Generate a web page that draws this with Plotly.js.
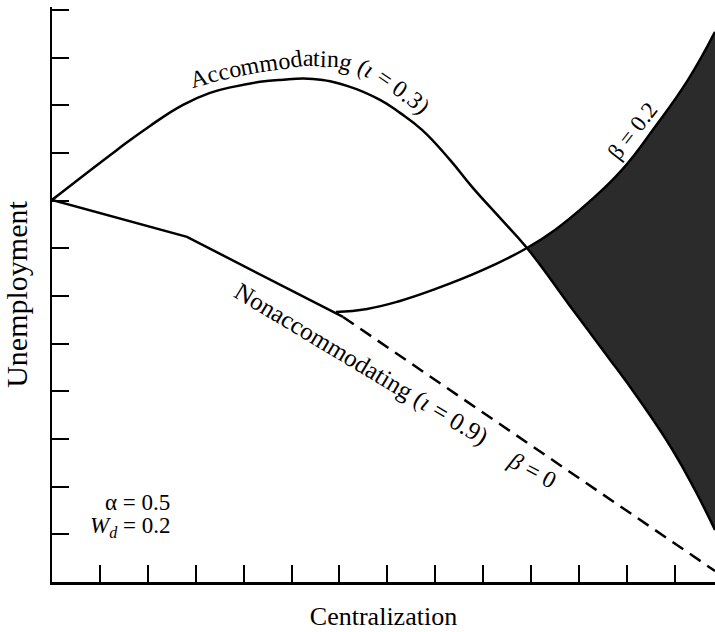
<!DOCTYPE html>
<html>
<head>
<meta charset="utf-8">
<script src="https://cdn.plot.ly/plotly-3.0.1.min.js"></script>
<style>
  html, body { margin: 0; padding: 0; background: #fff; }
  #chart { width: 715px; height: 632px; }
</style>
</head>
<body>
<div id="chart"></div>
<script>
// ---- Data (axis units = tick intervals) ----
const accomX = [0, 1.357, 2.046, 2.735, 3.298, 3.778, 4.342, 4.759, 5.448, 6.158, 6.847, 7.264, 7.724, 8.308, 8.768, 9.352, 9.915, 10.813, 11.544, 12.232, 12.942, 13.422, 13.840];
const accomY = [8.014, 9.063, 9.566, 10.007, 10.259, 10.385, 10.490, 10.531, 10.552, 10.406, 10.112, 9.839, 9.482, 8.853, 8.287, 7.636, 7.006, 5.790, 4.804, 3.860, 2.790, 1.930, 1.091];

const nonaccX = [0, 2.818, 6.075];
const nonaccY = [8.014, 7.238, 5.559];

const beta0X = [6.075, 13.840];
const beta0Y = [5.559, 0.231];

const beta02X = [5.928, 6.576, 7.264, 7.953, 8.997, 9.915, 10.500, 11.188, 11.898, 12.587, 13.276, 13.840];
const beta02Y = [5.664, 5.727, 5.895, 6.126, 6.545, 7.006, 7.385, 7.951, 8.643, 9.545, 10.531, 11.538];

const crossX = 9.915; // where the accommodating curve meets the beta = 0.2 curve

// ---- Shaded region: between the two curves beyond the crossing ----
const upX = [], upY = [], loX = [], loY = [];
beta02X.forEach((x, i) => { if (x >= crossX) { upX.push(x); upY.push(beta02Y[i]); } });
accomX.forEach((x, i) => { if (x >= crossX) { loX.push(x); loY.push(accomY[i]); } });

const XMAX = 13.84, YMAX = 12.06;
const W = 715, H = 632, ML = 52, MR = 0, MT = 7, MB = 50;
const PW = W - ML - MR, PH = H - MT - MB;
const FONT = 'Liberation Serif';

// ---- helpers for text that follows a curve (pixel path -> paper coords) ----
const cv = document.createElement('canvas').getContext('2d');
function toPaper(px, py) { return [(px - ML) / PW, (MT + PH - py) / PH]; }
function curvedText(str, pts, fs, offset, italicChars) {
  cv.font = fs + 'px "Liberation Serif"';
  const segs = []; let total = 0;
  for (let i = 1; i < pts.length; i++) {
    const dx = pts[i][0] - pts[i-1][0], dy = pts[i][1] - pts[i-1][1];
    const L = Math.hypot(dx, dy);
    segs.push({x: pts[i-1][0], y: pts[i-1][1], dx, dy, L, s0: total});
    total += L;
  }
  function at(s) {
    let g = segs[segs.length - 1];
    for (const sg of segs) { if (s <= sg.s0 + sg.L) { g = sg; break; } }
    const t = (s - g.s0) / g.L;
    return {x: g.x + g.dx * t, y: g.y + g.dy * t, a: Math.atan2(g.dy, g.dx)};
  }
  const out = []; let s = 0;
  for (const ch of str) {
    const w = cv.measureText(ch).width;
    if (ch !== ' ') {
      const p = at(s + w / 2);
      const cx = p.x + Math.sin(p.a) * offset;
      const cy = p.y - Math.cos(p.a) * offset;
      const [xp, yp] = toPaper(cx, cy);
      out.push({
        text: italicChars && italicChars.includes(ch) ? '<i>' + ch + '</i>' : ch,
        xref: 'paper', yref: 'paper', x: xp, y: yp,
        xanchor: 'center', yanchor: 'middle', showarrow: false,
        textangle: p.a * 180 / Math.PI, borderpad: 0,
        font: {family: FONT, size: fs, color: '#000'}
      });
    }
    s += w;
  }
  return out;
}

const accomLabelPath = [[193,88],[230,78],[267,71],[303,66],[335,67],[358,73],[378,83],[398,97],[416,112],[434,130],[450,148]];

function label(text, px, py, angle, size, xanchor) {
  const [x, y] = toPaper(px, py);
  return {text, xref: 'paper', yref: 'paper', x, y, xanchor: xanchor || 'center', yanchor: 'middle',
          showarrow: false, textangle: angle, font: {family: FONT, size, color: '#000'}};
}

const annotations = [].concat(
  curvedText('Accommodating (ι = 0.3)', accomLabelPath, 24, 8, ['ι']),
  [
    label('Nonaccommodating (<i>ι</i> = 0.9)', 361, 364, 31, 25),
    label('<i>β</i> = 0', 532, 470, 28, 24),
    label('β = 0.2', 632, 131, -52, 23),
    label('α = 0.5', 172, 502, 0, 23, 'right'),
    label('<i>W</i><sub><i>d</i></sub> = 0.2', 172, 527, 0, 23, 'right')
  ]
);

const SM = 1.3;
const traces = [
  {x: upX, y: upY, mode: 'lines', line: {width: 0, shape: 'spline', smoothing: SM, color: 'rgba(0,0,0,0)'},
   hoverinfo: 'skip', showlegend: false},
  {x: loX, y: loY, mode: 'lines', fill: 'tonexty', fillcolor: '#2b2b2b',
   line: {width: 0, shape: 'spline', smoothing: SM, color: 'rgba(0,0,0,0)'}, hoverinfo: 'skip', showlegend: false},
  {x: accomX, y: accomY, mode: 'lines', line: {color: '#000', width: 2.5, shape: 'spline', smoothing: SM}, showlegend: false},
  {x: nonaccX, y: nonaccY, mode: 'lines', line: {color: '#000', width: 2.5}, showlegend: false},
  {x: beta02X, y: beta02Y, mode: 'lines', line: {color: '#000', width: 2.5, shape: 'spline', smoothing: SM}, showlegend: false},
  {x: beta0X, y: beta0Y, mode: 'lines', line: {color: '#000', width: 2.5, dash: '13px,8px'}, showlegend: false}
];

const axisCommon = {
  showgrid: false, zeroline: false, showline: true, linecolor: '#000', linewidth: 2.5,
  ticks: 'inside', ticklen: 17, tickwidth: 2, tickcolor: '#000',
  tick0: 0, dtick: 1, showticklabels: false, fixedrange: true
};

const layout = {
  width: W, height: H,
  margin: {l: ML, r: MR, t: MT, b: MB, pad: 0},
  paper_bgcolor: '#fff', plot_bgcolor: '#fff',
  font: {family: FONT, color: '#000'},
  showlegend: false,
  xaxis: Object.assign({}, axisCommon, {range: [0, XMAX],
    title: {text: 'Centralization', font: {family: FONT, size: 26, color: '#000'}, standoff: 24}}),
  yaxis: Object.assign({}, axisCommon, {range: [0, YMAX],
    title: {text: 'Unemployment', font: {family: FONT, size: 30, color: '#000'}, standoff: 18}}),
  annotations: annotations
};

Plotly.newPlot('chart', traces, layout, {staticPlot: true, displayModeBar: false});
</script>
</body>
</html>
